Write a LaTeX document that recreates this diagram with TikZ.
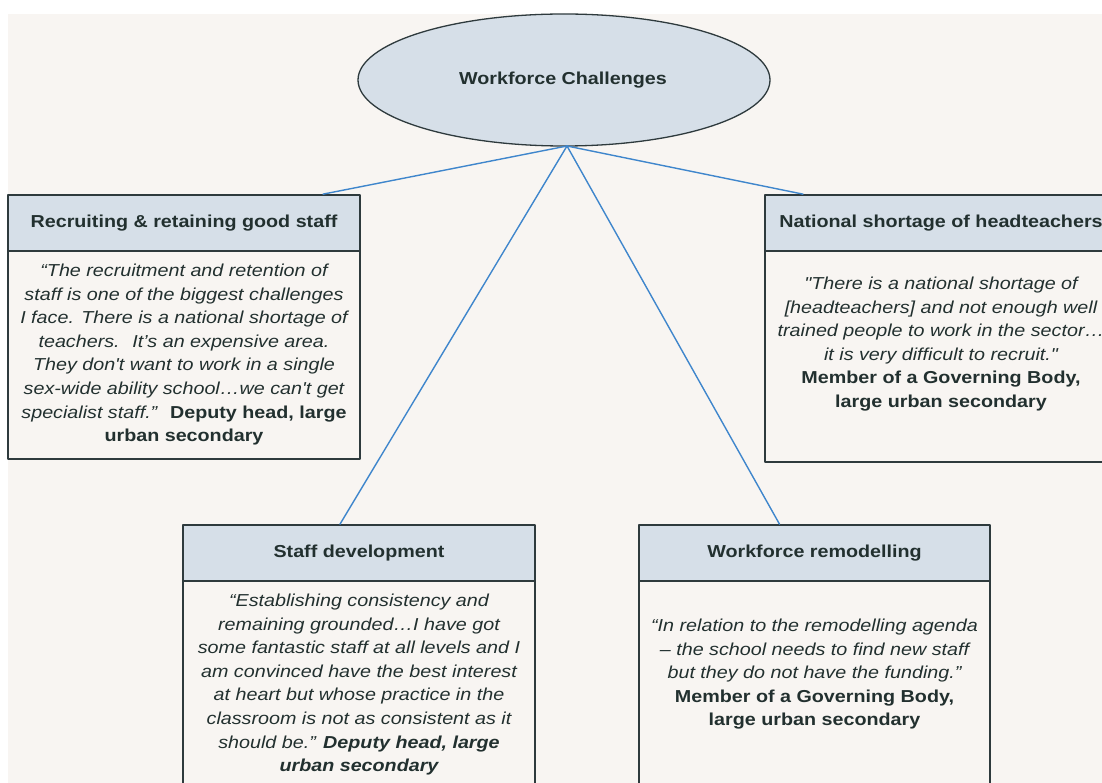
\documentclass[tikz,border=0pt]{standalone}
\usepackage{fontspec}
\setmainfont[FakeStretch=1.14,Ligatures=TeXOff]{Liberation Sans}
\usepackage{tikz}
\usetikzlibrary{shapes.geometric}
\usetikzlibrary{positioning}
\definecolor{pagebg}{HTML}{F8F5F2}
\definecolor{headfill}{HTML}{D6DFE8}
\definecolor{edgec}{HTML}{2E3A3D}
\definecolor{linkc}{HTML}{3F86CC}
\definecolor{inkc}{HTML}{22302F}
\newcommand{\qfont}{\fontsize{17.3}{23.6}\selectfont}

\begin{document}
\begin{tikzpicture}[x=1pt,y=-1pt,line cap=round,line join=round,
    topic/.style={ellipse,draw=edgec,line width=1.3pt,fill=headfill,minimum width=412pt,minimum height=132pt,inner sep=0pt,text=inkc,font=\qfont\bfseries},
    hdr/.style={rectangle,draw=edgec,line width=1.7pt,fill=headfill,minimum width=352pt,minimum height=56pt,inner sep=0pt,text=inkc,font=\qfont\bfseries},
    bodybox/.style={draw=edgec,line width=1.7pt,fill=pagebg},
    quote/.style={align=center,inner sep=0pt,text=inkc,font=\qfont\itshape},
    link/.style={draw=linkc,line width=1.4pt}]
        \useasboundingbox (0,0) rectangle (1102,783);
        \fill[white] (0,0) rectangle (1102,783);
        \fill[pagebg] (8,14) rectangle (1102,783);
        % body boxes first, headers on top
        \draw[bodybox] (8,250) rectangle (360,459);
        \draw[bodybox] (765,250) rectangle (1117,462);
        \draw[bodybox] (183,580) rectangle (535,800);
        \draw[bodybox] (639,580) rectangle (990,800);
        \node[hdr] (rechd) at (184,223) {Recruiting \& retaining good staff};
        \node[hdr] (headhd) at (941,223) {National shortage of headteachers};
        \node[hdr] (devhd) at (359,553) {Staff development};
        \node[hdr,minimum width=351pt] (remhd) at (814.5,553) {Workforce remodelling};
        \begin{scope}
        \clip (0,14) rectangle (1102,783);
        \node[topic] (ctr) at (564,80) {};
        \end{scope}
        \node[text=inkc,font=\qfont\bfseries] at (563,80) {Workforce Challenges};
        \coordinate (hub) at (567,146);
        % quotes
        \node[quote,below=12pt of rechd.south] (recq) {“The recruitment and retention of\\
staff is one of the biggest challenges\\
I face. There is a national shortage of\\
teachers.~ It’s an expensive area.\\
They don't want to work in a single\\
sex-wide ability school…we can't get\\
specialist staff.”~ \textbf{\upshape Deputy head, large}\\
\textbf{\upshape urban secondary}};
        \node[quote,below=25pt of headhd.south] (headq) {"There is a national shortage of\\
{[}headteachers{]} and not enough well\\
trained people to work in the sector…\\
it is very difficult to recruit."\\
\textbf{\upshape Member of a Governing Body,}\\
\textbf{\upshape large urban secondary}};
        \node[quote,below=12pt of devhd.south] (devq) {“Establishing consistency and\\
remaining grounded…I have got\\
some fantastic staff at all levels and I\\
am convinced have the best interest\\
at heart but whose practice in the\\
classroom is not as consistent as it\\
should be.” \textbf{Deputy head, large}\\
\textbf{urban secondary}};
        \node[quote,below=37pt of remhd.south] (remq) {“In relation to the remodelling agenda\\
– the school needs to find new staff\\
but they do not have the funding.”\\
\textbf{\upshape Member of a Governing Body,}\\
\textbf{\upshape large urban secondary}};
        % links
        \draw[link] (hub) -- ([xshift=139pt]rechd.north);
        \draw[link] (hub) -- ([xshift=-138pt]headhd.north);
        \draw[link] (hub) -- ([xshift=-19pt]devhd.north);
        \draw[link] (hub) -- ([xshift=-35pt]remhd.north);
\end{tikzpicture}
\end{document}
